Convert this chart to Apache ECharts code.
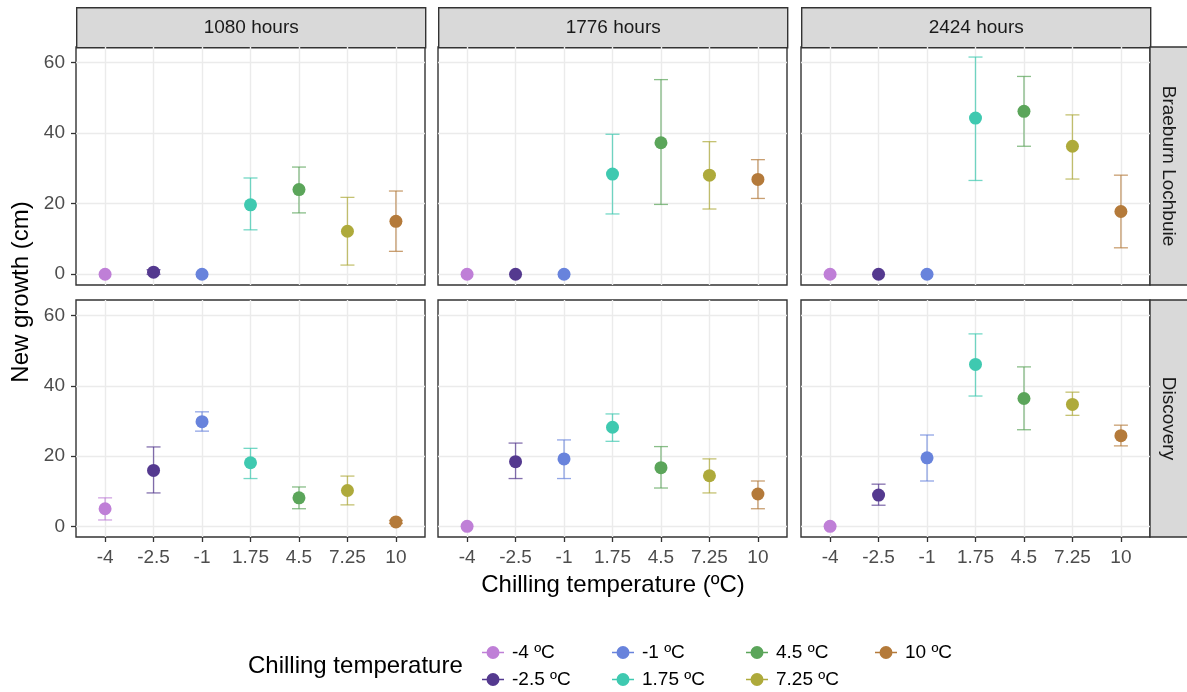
<!DOCTYPE html>
<html>
<head>
<meta charset="utf-8">
<title>New growth by chilling temperature</title>
<script src="https://cdn.jsdelivr.net/npm/echarts@6/dist/echarts.min.js"></script>
<style>
  html, body { margin: 0; padding: 0; background: #fff; }
  #chart { width: 1187px; height: 692px; }
</style>
</head>
<body>
<div id="chart"></div>
<script>
// ---- data -------------------------------------------------------------
const categories = ['-4', '-2.5', '-1', '1.75', '4.5', '7.25', '10'];
const tempLabels = ['-4 ºC', '-2.5 ºC', '-1 ºC', '1.75 ºC', '4.5 ºC', '7.25 ºC', '10 ºC'];
const tempColors = ['#BF7FD7', '#54398F', '#6883DC', '#3FC9B0', '#5BA55A', '#AEAA3B', '#B47A3A'];
const hourLabels = ['1080 hours', '1776 hours', '2424 hours'];
const cultivars = ['Braeburn Lochbuie', 'Discovery'];
const yTicks = [0, 20, 40, 60];

// one row per chilling duration (1080, 1776, 2424 h), one value per temperature
const braeburnMean = [
  [0, 0.6, 0, 19.7, 24.0, 12.2, 15.0],
  [0, 0, 0, 28.4, 37.3, 28.1, 26.9],
  [0, 0, 0, 44.3, 46.2, 36.3, 17.8]
];
const braeburnLow = [
  [0, 0, 0, 12.6, 17.4, 2.6, 6.5],
  [0, 0, 0, 17.1, 19.8, 18.5, 21.5],
  [0, 0, 0, 26.6, 36.3, 27.0, 7.5]
];
const braeburnHigh = [
  [0, 1.3, 0, 27.3, 30.4, 21.8, 23.6],
  [0, 0, 0, 39.7, 55.2, 37.6, 32.5],
  [0, 0, 0, 61.6, 56.1, 45.2, 28.1]
];
const discoveryMean = [
  [5.0, 15.9, 29.8, 18.1, 8.1, 10.2, 1.25],
  [0, 18.4, 19.2, 28.2, 16.7, 14.4, 9.2],
  [0, 8.9, 19.5, 46.1, 36.4, 34.7, 25.8]
];
const discoveryLow = [
  [1.8, 9.5, 27.1, 13.6, 5.0, 6.1, 0.8],
  [0, 13.6, 13.6, 24.2, 10.9, 9.5, 5.0],
  [0, 6.0, 12.9, 37.1, 27.5, 31.6, 22.9]
];
const discoveryHigh = [
  [8.1, 22.6, 32.6, 22.2, 11.2, 14.3, 1.7],
  [0, 23.7, 24.6, 32.0, 22.7, 19.2, 12.9],
  [0, 12.0, 26.0, 54.8, 45.4, 38.2, 28.8]
];

// ---- layout -----------------------------------------------------------
const FONT = "'Liberation Sans', Arial, sans-serif";
const panelLeft = [76, 438, 801];
const panelWidth = 349;
const panelTop = [47, 300];
const panelHeight = [238, 237];
const stripSize = 40;
const yMin = -3.05, yMax = 64.45;
const xMin = -0.6, xMax = 6.6;

const rows = [
  { mean: braeburnMean, low: braeburnLow, high: braeburnHigh },
  { mean: discoveryMean, low: discoveryLow, high: discoveryHigh }
];

const catIndex = categories.map((c, i) => i);

// point with an error bar (mean, low, high)
function renderPoint(params, api) {
  const x = api.value(0), m = api.value(1), lo = api.value(2), hi = api.value(3);
  const c = api.visual('color');
  const p = api.coord([x, m]);
  const children = [];
  if (hi > lo) {
    const a = api.coord([x, hi]);
    const b = api.coord([x, lo]);
    const st = { stroke: c, lineWidth: 1.3, opacity: 0.72 };
    children.push({ type: 'line', shape: { x1: a[0], y1: a[1], x2: b[0], y2: b[1] }, style: st });
    children.push({ type: 'line', shape: { x1: a[0] - 7, y1: a[1], x2: a[0] + 7, y2: a[1] }, style: st });
    children.push({ type: 'line', shape: { x1: b[0] - 7, y1: b[1], x2: b[0] + 7, y2: b[1] }, style: st });
  }
  children.push({ type: 'circle', shape: { cx: p[0], cy: p[1], r: 6.5 }, style: { fill: c } });
  return { type: 'group', children };
}

const grids = [], xAxes = [], yAxes = [], series = [], graphics = [];

for (let r = 0; r < 2; r++) {
  for (let c = 0; c < 3; c++) {
    const idx = r * 3 + c;
    grids.push({
      left: panelLeft[c], top: panelTop[r], width: panelWidth, height: panelHeight[r],
      show: true, borderColor: '#333333', borderWidth: 1.4, backgroundColor: '#ffffff',
      containLabel: false
    });
    xAxes.push({
      type: 'value', gridIndex: idx, min: xMin, max: xMax, splitNumber: 7,
      position: 'bottom',
      axisLine: { show: false, onZero: false },
      axisTick: { show: r === 1, customValues: catIndex, length: 5,
                  lineStyle: { color: '#333333', width: 1.3 } },
      axisLabel: { show: r === 1, customValues: catIndex,
                   formatter: v => categories[Math.round(v)],
                   color: '#4D4D4D', fontSize: 19, fontFamily: FONT, margin: 11 },
      splitLine: { show: true, lineStyle: { color: '#EBEBEB', width: 1.4 } }
    });
    yAxes.push({
      type: 'value', gridIndex: idx, min: yMin, max: yMax, splitNumber: 3,
      position: 'left',
      axisLine: { show: false, onZero: false },
      axisTick: { show: c === 0, customValues: yTicks, length: 5,
                  lineStyle: { color: '#333333', width: 1.3 } },
      axisLabel: { show: c === 0, customValues: yTicks,
                   color: '#4D4D4D', fontSize: 19, fontFamily: FONT, margin: 11 },
      splitLine: { show: true, lineStyle: { color: '#EBEBEB', width: 1.4 } }
    });
    const d = rows[r];
    for (let t = 0; t < categories.length; t++) {
      series.push({
        type: 'custom', name: tempLabels[t], xAxisIndex: idx, yAxisIndex: idx,
        itemStyle: { color: tempColors[t] },
        renderItem: renderPoint,
        encode: { x: 0, y: [1, 2, 3] },
        data: [[t, d.mean[c][t], d.low[c][t], d.high[c][t]]],
        z: 3
      });
    }
  }
}

// facet strips: column headers
for (let c = 0; c < 3; c++) {
  graphics.push({
    type: 'group', left: panelLeft[c], top: panelTop[0] - stripSize,
    children: [
      { type: 'rect', shape: { x: 0, y: 0, width: panelWidth, height: stripSize },
        style: { fill: '#D9D9D9', stroke: '#333333', lineWidth: 1.4 } },
      { type: 'text', x: panelWidth / 2, y: stripSize / 2,
        style: { text: hourLabels[c], fill: '#1A1A1A', font: '19px ' + FONT,
                 align: 'center', verticalAlign: 'middle' } }
    ]
  });
}
// facet strips: row labels on the right
const rightX = panelLeft[2] + panelWidth;
for (let r = 0; r < 2; r++) {
  graphics.push({
    type: 'rect', x: rightX, y: panelTop[r],
    shape: { x: 0, y: 0, width: stripSize, height: panelHeight[r] },
    style: { fill: '#D9D9D9', stroke: '#333333', lineWidth: 1.4 }
  });
  graphics.push({
    type: 'text', x: rightX + stripSize / 2 - 2, y: panelTop[r] + panelHeight[r] / 2,
    rotation: -Math.PI / 2,
    style: { text: cultivars[r], fill: '#1A1A1A', font: '19px ' + FONT,
             align: 'center', verticalAlign: 'middle' }
  });
}
// axis titles
graphics.push({
  type: 'text', x: (panelLeft[0] + rightX) / 2, y: 585,
  style: { text: 'Chilling temperature (ºC)', fill: '#000', font: '24px ' + FONT,
           align: 'center', verticalAlign: 'middle' }
});
graphics.push({
  type: 'text', x: 21, y: (panelTop[0] + panelTop[1] + panelHeight[1]) / 2,
  rotation: Math.PI / 2,
  style: { text: 'New growth (cm)', fill: '#000', font: '24px ' + FONT,
           align: 'center', verticalAlign: 'middle' }
});
// legend title
graphics.push({
  type: 'text', x: 248, y: 666,
  style: { text: 'Chilling temperature', fill: '#000', font: '24px ' + FONT,
           align: 'left', verticalAlign: 'middle' }
});

// legend key: a dot on a short line
const keyIcon = 'path://M0,5.8L22,5.8L22,7.2L0,7.2Z M4.5,6.5A6.5,6.5 0 1 1 17.5,6.5A6.5,6.5 0 1 1 4.5,6.5Z';
const legendCols = [[0, 1], [2, 3], [4, 5], [6]];
const legendLeft = [482, 612, 746, 875];
const legends = legendCols.map((col, i) => ({
  orient: 'vertical', left: legendLeft[i], top: 643,
  itemWidth: 22, itemHeight: 13, itemGap: 8, padding: 0,
  selectedMode: false,
  textStyle: { fontSize: 19, color: '#000', fontFamily: FONT, padding: [0, 0, 0, 3] },
  data: col.map(t => ({ name: tempLabels[t], icon: keyIcon }))
}));

const chart = echarts.init(document.getElementById('chart'), null, { renderer: 'canvas' });
chart.setOption({
  animation: false,
  backgroundColor: '#ffffff',
  grid: grids,
  xAxis: xAxes,
  yAxis: yAxes,
  legend: legends,
  series: series,
  graphic: graphics
});
</script>
</body>
</html>
